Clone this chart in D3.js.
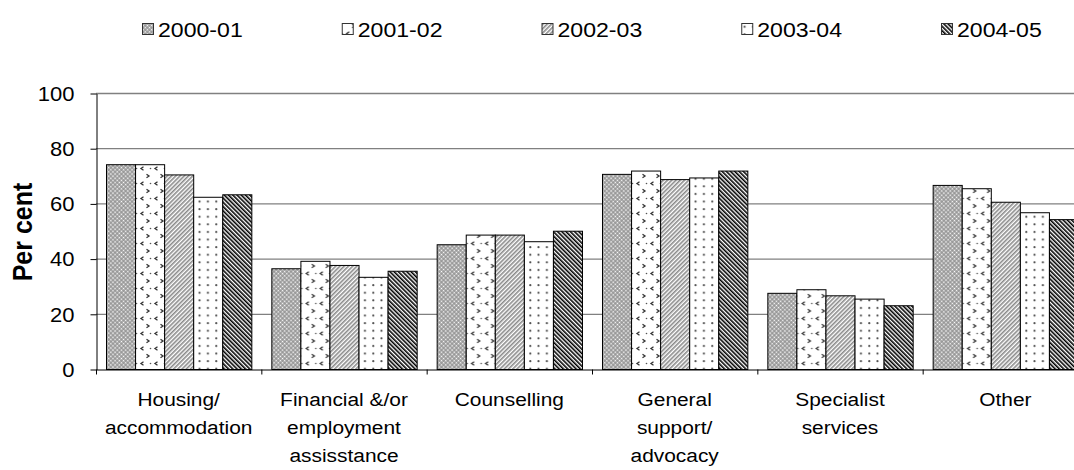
<!DOCTYPE html>
<html><head><meta charset="utf-8">
<script src="https://cdn.jsdelivr.net/npm/d3@7"></script>
<style>
html,body{margin:0;padding:0;background:#fff;}
svg{display:block;font-family:"Liberation Sans",Arial,sans-serif;}
</style></head>
<body>
<svg id="chart" width="1074" height="470"></svg>
<script>
// ---- data ----
const categories = ["Housing/\naccommodation", "Financial &/or\nemployment\nassisstance", "Counselling",
  "General\nsupport/\nadvocacy", "Specialist\nservices", "Other"];
const seriesNames = ["2000-01", "2001-02", "2002-03", "2003-04", "2004-05"];
const v2000_01 = [74.2, 36.5, 45.2, 70.7, 27.6, 66.7];
const v2001_02 = [74.2, 39.2, 48.7, 71.9, 28.9, 65.5];
const v2002_03 = [70.5, 37.7, 48.7, 68.8, 26.7, 60.6];
const v2003_04 = [62.4, 33.4, 46.3, 69.4, 25.5, 56.8];
const v2004_05 = [63.3, 35.6, 50.1, 71.9, 23.1, 54.3];
const yTicks = [0, 20, 40, 60, 80, 100];

const seriesValues = [v2000_01, v2001_02, v2002_03, v2003_04, v2004_05];

// ---- layout ----
const SX = 1.1; // horizontal text stretch
const plot = {left: 96, right: 1088, top: 93, bottom: 369};
const svg = d3.select("#chart");
const defs = svg.append("defs");

function pat(id, w, h, transform) {
  const p = defs.append("pattern").attr("id", id).attr("patternUnits", "userSpaceOnUse")
    .attr("width", w).attr("height", h);
  if (transform) p.attr("patternTransform", transform);
  return p;
}
// 2000-01 : grey crosshatch mesh with white diamonds
{
  const p = pat("p0", 3, 3, "rotate(45)");
  p.append("rect").attr("width", 3).attr("height", 3).attr("fill", "#8c8c8c");
  p.append("rect").attr("x", 0.7).attr("y", 0.7).attr("width", 1.7).attr("height", 1.7).attr("fill", "#ffffff");
}
// 2001-02 : white with small chevrons
{
  const p = pat("p1", 14, 15);
  p.append("rect").attr("width", 14).attr("height", 15).attr("fill", "#fff");
  p.append("path").attr("d", "M5.5,1.8 L3,3.5 L5.5,5.2").attr("fill", "none").attr("stroke", "#333").attr("stroke-width", 1.3);
  p.append("path").attr("d", "M8.5,9.3 L11,11 L8.5,12.7").attr("fill", "none").attr("stroke", "#333").attr("stroke-width", 1.3);
  p.append("circle").attr("cx", 12.5).attr("cy", 3.5).attr("r", 0.8).attr("fill", "#555");
}
// 2002-03 : grey "/" stripes
{
  const p = pat("p2", 3, 3, "rotate(45)");
  p.append("rect").attr("width", 3).attr("height", 3).attr("fill", "#fff");
  p.append("rect").attr("width", 1.6).attr("height", 3).attr("fill", "#8a8a8a");
}
// 2003-04 : white with dots
{
  const p = pat("p3", 8.3, 7.6);
  p.append("rect").attr("width", 8.3).attr("height", 7.6).attr("fill", "#fff");
  p.append("circle").attr("cx", 4).attr("cy", 4).attr("r", 1.05).attr("fill", "#444");
}
// 2004-05 : black "\" stripes
{
  const p = pat("p4", 3, 3, "rotate(-45)");
  p.append("rect").attr("width", 3).attr("height", 3).attr("fill", "#fff");
  p.append("rect").attr("width", 1.6).attr("height", 3).attr("fill", "#000");
}
const patIds = ["p0", "p1", "p2", "p3", "p4"];

// scales
const x = d3.scaleBand().domain(categories).range([plot.left, plot.right]).paddingInner(0).paddingOuter(0);
const groupPad = 10;
const xInner = d3.scaleBand().domain(seriesNames).range([groupPad, x.bandwidth() - groupPad]).padding(0);
const y = d3.scaleLinear().domain([0, 100]).range([plot.bottom, plot.top]);

// gridlines
svg.append("g").selectAll("line").data(yTicks.filter(t => t > 0)).join("line")
  .attr("x1", plot.left).attr("x2", plot.right)
  .attr("y1", d => y(d) + 0.5).attr("y2", d => y(d) + 0.5)
  .attr("stroke", "#808080").attr("stroke-width", 1.3);

// bars
const groups = svg.append("g").selectAll("g").data(categories).join("g")
  .attr("transform", d => `translate(${x(d)},0)`);
groups.selectAll("rect").data((c, ci) => seriesNames.map((s, si) => ({s, si, v: seriesValues[si][ci]})))
  .join("rect")
  .attr("x", d => xInner(d.s) + 0.5)
  .attr("y", d => y(d.v) + 0.5)
  .attr("width", xInner.bandwidth())
  .attr("height", d => y(0) - y(d.v))
  .attr("fill", d => `url(#${patIds[d.si]})`)
  .attr("stroke", "#000").attr("stroke-width", 1);

// y axis
const yAxis = svg.append("g").attr("transform", `translate(${plot.left + 0.5},0.5)`)
  .call(d3.axisLeft(y).tickValues(yTicks).tickSize(6).tickSizeOuter(0).tickPadding(0));
yAxis.select(".domain").attr("stroke", "#000");
yAxis.selectAll(".tick line").attr("stroke", "#000");
yAxis.selectAll(".tick text")
  .attr("x", -22 / SX).attr("dy", "0.34em")
  .attr("transform", `scale(${SX},1)`)
  .attr("font-size", 20).attr("fill", "#000")
  .attr("font-family", '"Liberation Sans",Arial,sans-serif');

// x axis
const xAxis = svg.append("g").attr("transform", `translate(0,${plot.bottom + 0.5})`)
  .call(d3.axisBottom(x).tickSize(0).tickSizeOuter(0).tickFormat(""));
xAxis.select(".domain").attr("stroke", "#000");
const bounds = categories.map(c => x(c)).concat([x.range()[1]]);
xAxis.append("g").selectAll("line").data(bounds).join("line")
  .attr("x1", d => d + 0.5).attr("x2", d => d + 0.5).attr("y1", 0).attr("y2", 5)
  .attr("stroke", "#000");
xAxis.selectAll(".tick").each(function(d) {
  const t = d3.select(this).append("text")
    .attr("transform", `scale(${SX},1)`)
    .attr("text-anchor", "middle").attr("fill", "#000")
    .attr("font-size", 19).attr("font-family", '"Liberation Sans",Arial,sans-serif');
  d.split("\n").forEach((line, i) => {
    t.append("tspan").attr("x", 0).attr("y", 37 + i * 28).text(line);
  });
});

// y title
svg.append("text")
  .attr("transform", `translate(32,232) scale(${SX},1) rotate(-90)`)
  .attr("text-anchor", "middle").attr("font-weight", "bold").attr("font-size", 25)
  .attr("fill", "#000").text("Per cent");

// legend
const legX = d3.scaleLinear().domain([0, seriesNames.length - 1]).range([158, 957]);
const leg = svg.append("g").selectAll("g").data(seriesNames).join("g")
  .attr("transform", (d, i) => `translate(${legX(i)},0)`);
leg.append("rect").attr("x", -15.5).attr("y", 23.5).attr("width", 11).attr("height", 11)
  .attr("fill", (d, i) => `url(#${patIds[i]})`).attr("stroke", "#333").attr("stroke-width", 1);
leg.append("text").attr("transform", `translate(0,37) scale(${SX},1)`)
  .attr("font-size", 21).attr("fill", "#000").text(d => d);
</script>
</body></html>
